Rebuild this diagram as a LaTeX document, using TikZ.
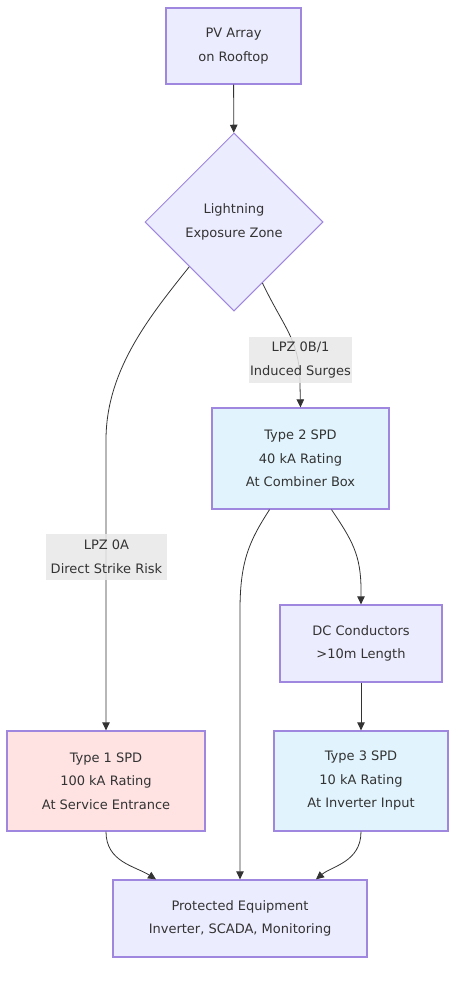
\documentclass[tikz,border=0pt]{standalone}
\usepackage{fontspec}
\setmainfont{DejaVu Sans}
\usetikzlibrary{shapes.geometric,arrows.meta}

\definecolor{boxfill}{HTML}{ECECFF}
\definecolor{boxline}{HTML}{9F86DF}
\definecolor{redfill}{HTML}{FFE3E3}
\definecolor{bluefill}{HTML}{E1F4FD}
\definecolor{labelfill}{HTML}{E8E8E8}
\definecolor{wire}{HTML}{333333}

\tikzset{
  box/.style={draw=boxline, line width=1.3pt, fill=boxfill, align=center,
    font=\fontsize{13}{23.5}\selectfont, text=black!80, inner sep=0pt},
  zone/.style={box, line width=1pt, shape=diamond, aspect=1, minimum width=178pt, minimum height=178pt},
  edgelabel/.style={fill=labelfill, fill opacity=0.85, text opacity=1, align=center,
    font=\fontsize{13}{23.5}\selectfont, text=black!80, inner sep=0pt},
  wireline/.style={draw=wire, line width=0.8pt, -{Triangle[length=8pt,width=7.5pt]}}
}

\begin{document}
\begin{tikzpicture}[x=1pt, y=-1pt]

    % Fix the page size
    \useasboundingbox (0,0) rectangle (464,982);

    % Nodes of the chain
    \node[box, minimum width=135pt, minimum height=76pt] (pv) at (233.5,46) {PV Array\\on Rooftop};
    \node[zone] (lz) at (234,222) {Lightning\\Exposure Zone};
    \node[box, fill=bluefill, minimum width=177pt, minimum height=101pt] (t2) at (300.5,458.5) {Type 2 SPD\\40 kA Rating\\At Combiner Box};
    \node[box, minimum width=162pt, minimum height=77pt] (dc) at (361,643.5) {DC Conductors\\>10m Length};
    \node[box, fill=redfill, minimum width=198pt, minimum height=100pt] (t1) at (106,781) {Type 1 SPD\\100 kA Rating\\At Service Entrance};
    \node[box, fill=bluefill, minimum width=174pt, minimum height=100pt] (t3) at (361,781) {Type 3 SPD\\10 kA Rating\\At Inverter Input};
    \node[box, minimum width=254pt, minimum height=77pt] (pe) at (240,918.5) {Protected Equipment\\Inverter, SCADA, Monitoring};

    % Connectors
    \draw[wireline] (pv) -- (lz);
    \draw[wireline] (lz.south west) .. controls (150,316) and (106,370) .. (106,440) -- (t1.north);
    \draw[wireline] (lz.-65) .. controls (285,330) and (300,340) .. (300,385) -- (t2.north);
    \draw[wireline] ([xshift=-31pt]t2.south) .. controls (250,540) and (240,560) .. (240,610) -- (pe.north);
    \draw[wireline] ([xshift=31pt]t2.south) .. controls (352,540) and (361,555) .. (361,590) -- (dc.north);
    \draw[wireline] (dc) -- (t3);
    \draw[wireline] (t1.south) .. controls (106,862) and (135,866) .. ([xshift=-84pt]pe.north);
    \draw[wireline] (t3.south) .. controls (361,862) and (332,866) .. ([xshift=76pt]pe.north);

    % Labels on the connectors
    \node[edgelabel, minimum width=103pt, minimum height=46pt] (lpzb) at (300.5,360) {LPZ 0B/1\\Induced Surges};
    \node[edgelabel, minimum width=121pt, minimum height=46pt] (lpza) at (106.5,557) {LPZ 0A\\Direct Strike Risk};

\end{tikzpicture}
\end{document}
